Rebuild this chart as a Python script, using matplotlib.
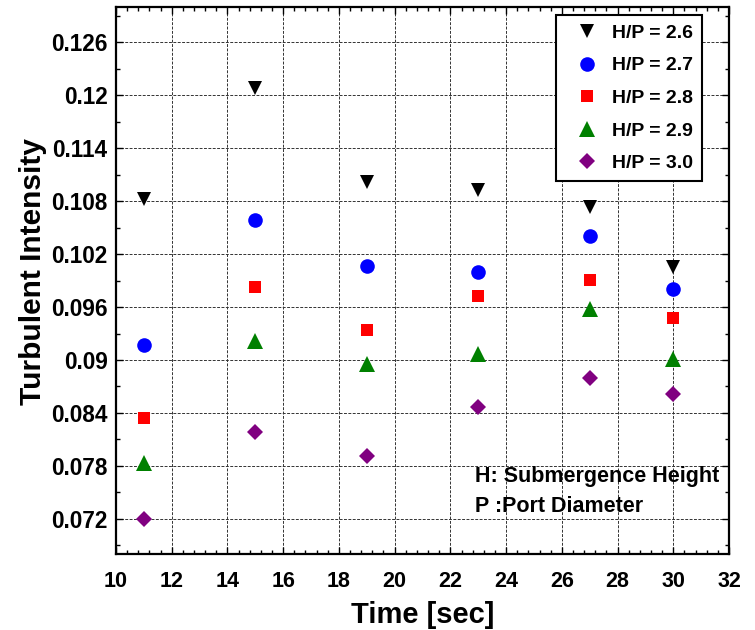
import matplotlib
matplotlib.use("Agg")
import matplotlib.pyplot as plt
from matplotlib.ticker import MultipleLocator, FixedLocator, FixedFormatter

plt.rcParams['font.family'] = ['Liberation Sans', 'DejaVu Sans']
plt.rcParams['font.weight'] = 'bold'

time = [11, 15, 19, 23, 27, 30]
hp26 = [0.1082, 0.1208, 0.1102, 0.1093, 0.1074, 0.1005]
hp27 = [0.0917, 0.1059, 0.1007, 0.1000, 0.1041, 0.0981]
hp28 = [0.0834, 0.0983, 0.0934, 0.0972, 0.0991, 0.0948]
hp29 = [0.0783, 0.0921, 0.0895, 0.0907, 0.0958, 0.0901]
hp30 = [0.0720, 0.0818, 0.0791, 0.0847, 0.0880, 0.0861]
labels = ["H/P = 2.6", "H/P = 2.7", "H/P = 2.8", "H/P = 2.9", "H/P = 3.0"]
xticks = [10, 12, 14, 16, 18, 20, 22, 24, 26, 28, 30, 32]
yticks = [0.072, 0.078, 0.084, 0.09, 0.096, 0.102, 0.108, 0.114, 0.12, 0.126]
ytick_labels = ["0.072", "0.078", "0.084", "0.09", "0.096", "0.102", "0.108", "0.114", "0.12", "0.126"]

fig = plt.figure(figsize=(7.55, 6.3), dpi=100)
ax = fig.add_axes([0.1536, 0.1206, 0.812, 0.868])

series = [hp26, hp27, hp28, hp29, hp30]
markers = ['v', 'o', 's', '^', 'D']
colors = ['black', 'blue', 'red', 'green', 'purple']
sizes = [10.5, 10.5, 9, 12, 8.5]
for s, m, c, ms, lab in zip(series, markers, colors, sizes, labels):
    ax.plot(time, s, linestyle='none', marker=m, color=c, markersize=ms,
            markeredgewidth=0, label=lab)

ax.set_xlim(10, 32)
ax.set_ylim(0.068, 0.130)
ax.xaxis.set_major_locator(FixedLocator(xticks))
ax.xaxis.set_minor_locator(MultipleLocator(0.4))
ax.yaxis.set_major_locator(FixedLocator(yticks))
ax.yaxis.set_major_formatter(FixedFormatter(ytick_labels))
ax.yaxis.set_minor_locator(MultipleLocator(0.003))

ax.grid(True, which='major', linestyle=(0, (3, 1.5)), color='#333333', linewidth=0.7)
ax.tick_params(which='both', direction='in', top=True, right=True, width=1.0)
ax.tick_params(which='major', length=5)
ax.tick_params(which='minor', length=3)
ax.tick_params(axis='x', which='major', labelsize=15.5, pad=12.5)
ax.tick_params(axis='y', which='major', labelsize=16.3, pad=6)
for lab in ax.get_xticklabels() + ax.get_yticklabels():
    lab.set_fontweight('bold')
for sp in ax.spines.values():
    sp.set_linewidth(1.6)

ax.set_xlabel("Time [sec]", fontsize=21, fontweight='bold', labelpad=6.5)
ax.set_ylabel("Turbulent Intensity", fontsize=21.5, fontweight='bold')
ax.yaxis.set_label_coords(-0.113, 0.517)

leg = ax.legend(loc='upper right', bbox_to_anchor=(0.956, 0.9854), borderaxespad=0,
                fontsize=14, frameon=True, fancybox=False, edgecolor='black',
                framealpha=1, labelspacing=0.77, handletextpad=0.2,
                borderpad=0.47, handlelength=2.2)
leg.get_frame().set_linewidth(1.5)
for t in leg.get_texts():
    t.set_fontweight('bold')

ax.text(0.585, 0.142, "H: Submergence Height", transform=ax.transAxes,
        fontsize=15.5, fontweight='bold', va='center', ha='left')
ax.text(0.585, 0.087, "P :Port Diameter", transform=ax.transAxes,
        fontsize=15.5, fontweight='bold', va='center', ha='left')

fig.savefig("out.png", dpi=100)
